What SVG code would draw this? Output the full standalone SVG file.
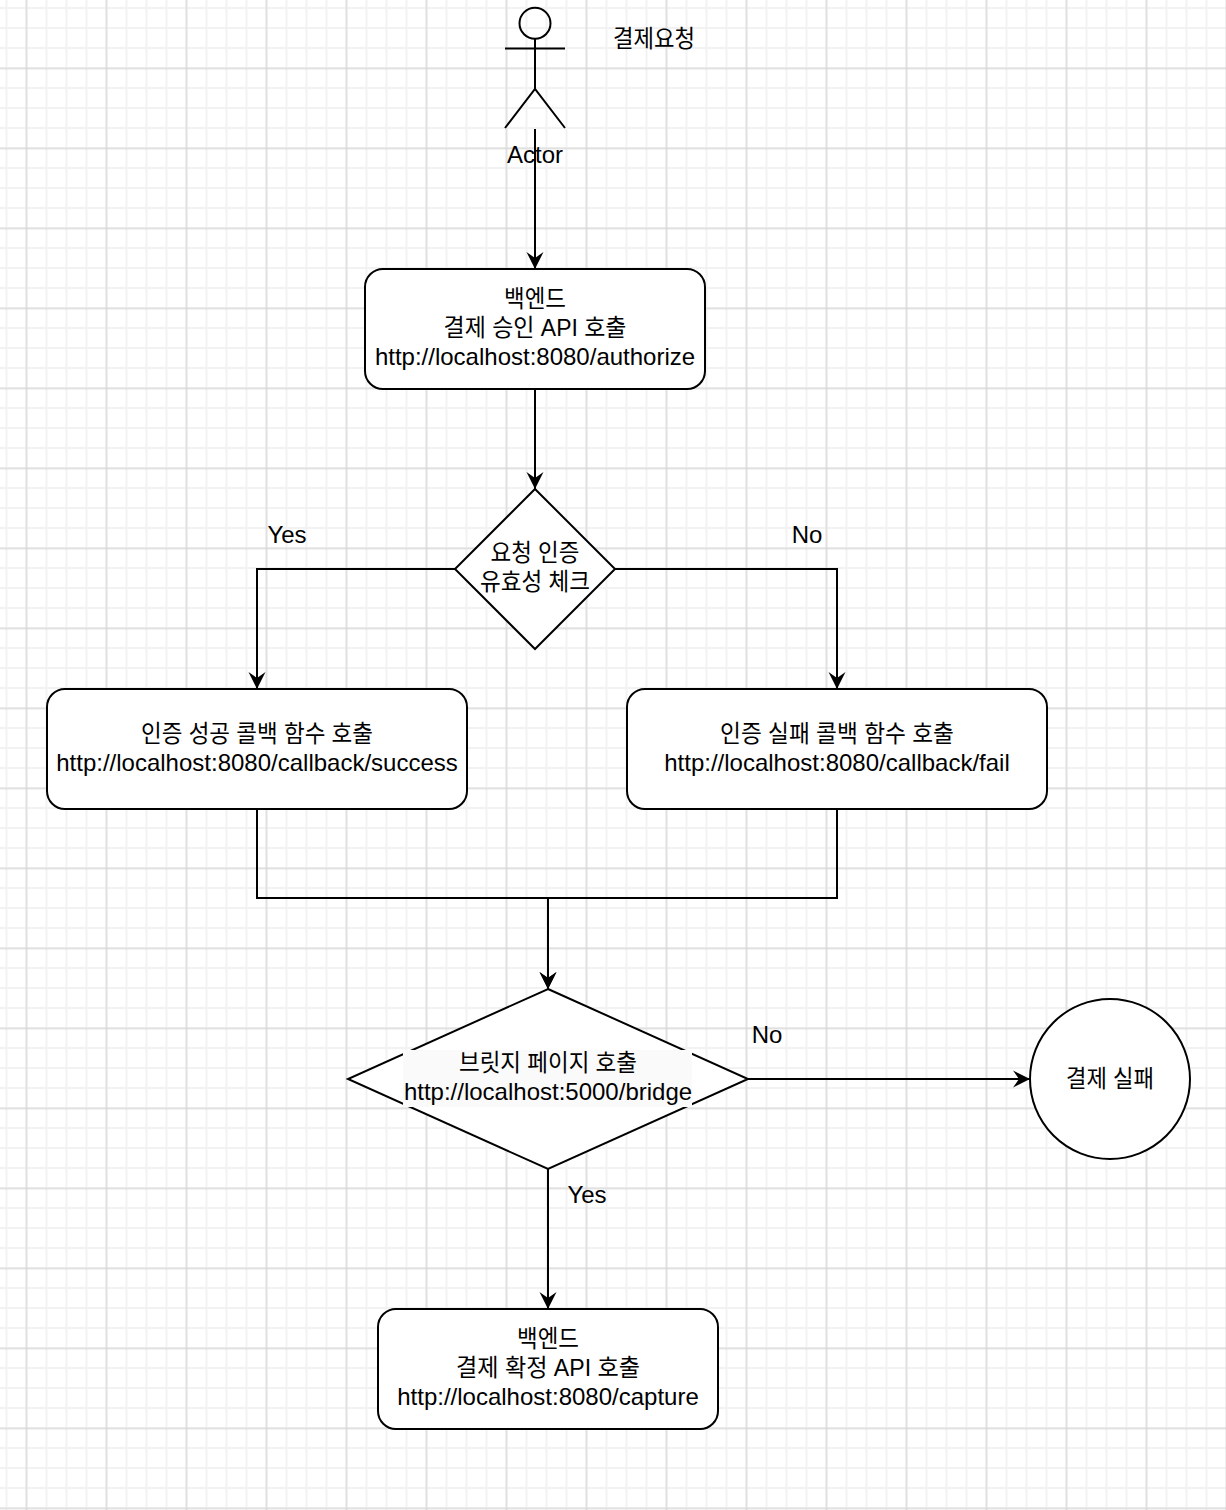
<svg xmlns="http://www.w3.org/2000/svg" width="1226" height="1510" viewBox="0 0 1226 1510">
<defs>
<pattern id="gMinor" patternUnits="userSpaceOnUse" x="-3.5" y="-2" width="20" height="20">
<path d="M10,0 V20 M0,10 H20" fill="none" stroke="#f2f2f2" stroke-width="2"/>
</pattern>
<pattern id="gMajor" patternUnits="userSpaceOnUse" x="-13.5" y="28.5" width="80" height="80">
<path d="M40,0 V80 M0,40 H80" fill="none" stroke="#d0d0d0" stroke-width="1"/>
</pattern>
<marker id="arrow" markerUnits="userSpaceOnUse" markerWidth="18" markerHeight="18" viewBox="0 0 18 18" refX="17" refY="9" orient="auto">
<path d="M0,0.5 L17,9 L0,17.5 L6,9 Z" fill="#000"/>
</marker>
<style>
.n { fill:#fff; stroke:#000; stroke-width:2; }
.s { fill:none; stroke:#000; stroke-width:2; }
.e { fill:none; stroke:#000; stroke-width:2; marker-end:url(#arrow); }
.t { font-family:"Liberation Sans","Noto Sans CJK KR",sans-serif; font-size:24px; fill:#000; text-anchor:middle; }
</style>
</defs>
<rect width="1226" height="1510" fill="#fff"/>
<rect width="1226" height="1510" fill="url(#gMinor)"/>
<rect width="1226" height="1510" fill="url(#gMajor)"/>

<g id="connectors">
<path class="e" d="M535,129 V269"/>
<path class="e" d="M535,389 V489"/>
<path class="e" d="M455,569 H257 V689"/>
<path class="e" d="M615,569 H837 V689"/>
<path class="e" d="M257,809 V898 H548 V989"/>
<path class="e" d="M837,809 V898 H548 V989"/>
<path class="e" d="M748,1079 H1030"/>
<path class="e" d="M548,1169 V1309"/>
<text class="t" x="287" y="543">Yes</text>
<text class="t" x="807" y="543">No</text>
<text class="t" x="767" y="1043">No</text>
<text class="t" x="587" y="1203">Yes</text>
</g>

<g id="actor">
<circle class="s" cx="535" cy="23.3" r="15.5"/>
<path class="s" d="M535,39 V89 M505,48.5 H565 M505,128 L535,89 L565,128"/>
<text class="t" x="535" y="163">Actor</text>
</g>

<g id="label-request">
<text class="t" x="654" y="47" textLength="82" lengthAdjust="spacingAndGlyphs">결제요청</text>
</g>

<g id="authorize">
<rect class="n" x="365" y="269" width="340" height="120" rx="18" ry="18"/>
<text class="t" x="535" y="307" textLength="62" lengthAdjust="spacingAndGlyphs">백엔드</text>
<text class="t" x="535" y="336" textLength="183" lengthAdjust="spacingAndGlyphs">결제 승인 API 호출</text>
<text class="t" x="535" y="365">http://localhost:8080/authorize</text>
</g>

<g id="check-auth">
<path class="n" d="M535,489 L615,569 L535,649 L455,569 Z"/>
<text class="t" x="535" y="561" textLength="89" lengthAdjust="spacingAndGlyphs">요청 인증</text>
<text class="t" x="535" y="590" textLength="110" lengthAdjust="spacingAndGlyphs">유효성 체크</text>
</g>

<g id="callback-success">
<rect class="n" x="47" y="689" width="420" height="120" rx="18" ry="18"/>
<text class="t" x="257" y="742" textLength="232" lengthAdjust="spacingAndGlyphs">인증 성공 콜백 함수 호출</text>
<text class="t" x="257" y="771">http://localhost:8080/callback/success</text>
</g>

<g id="callback-fail">
<rect class="n" x="627" y="689" width="420" height="120" rx="18" ry="18"/>
<text class="t" x="837" y="742" textLength="234" lengthAdjust="spacingAndGlyphs">인증 실패 콜백 함수 호출</text>
<text class="t" x="837" y="771">http://localhost:8080/callback/fail</text>
</g>

<g id="bridge">
<path class="n" d="M548,989 L748,1079 L548,1169 L348,1079 Z"/>
<rect x="403" y="1050" width="289" height="57" fill="#fafafa"/>
<text class="t" x="548" y="1071" textLength="178" lengthAdjust="spacingAndGlyphs">브릿지 페이지 호출</text>
<text class="t" x="548" y="1100">http://localhost:5000/bridge</text>
</g>

<g id="payment-fail">
<circle class="n" cx="1110" cy="1079" r="80"/>
<text class="t" x="1110" y="1087" textLength="88" lengthAdjust="spacingAndGlyphs">결제 실패</text>
</g>

<g id="capture">
<rect class="n" x="378" y="1309" width="340" height="120" rx="18" ry="18"/>
<text class="t" x="548" y="1347" textLength="62" lengthAdjust="spacingAndGlyphs">백엔드</text>
<text class="t" x="548" y="1376" textLength="184" lengthAdjust="spacingAndGlyphs">결제 확정 API 호출</text>
<text class="t" x="548" y="1405">http://localhost:8080/capture</text>
</g>
</svg>
